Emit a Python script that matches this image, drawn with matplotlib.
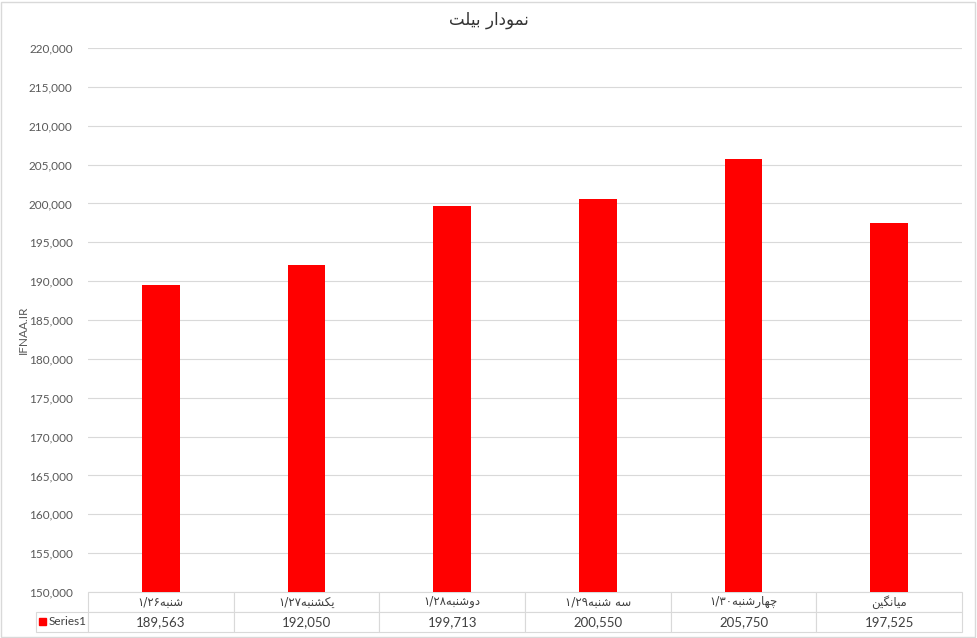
import matplotlib
matplotlib.use("Agg")
import matplotlib.pyplot as plt
from matplotlib.patches import Rectangle
from matplotlib.ticker import FuncFormatter, MultipleLocator

# ---------------- data ----------------
title = "نمودار بیلت"
ylabel = "IFNAA.IR"
series_name = "Series1"
categories = ["شنبه۱/۲۶", "یکشنبه۱/۲۷", "دوشنبه۱/۲۸", "سه شنبه۱/۲۹", "چهارشنبه۱/۳۰", "میانگین"]
values = [189563, 192050, 199713, 200550, 205750, 197525]
y_min, y_max, y_step = 150000, 220000, 5000

# ------------- minimal Persian shaping (matplotlib has no text shaping) -------------
FORMS = {
    "ا": ("\uFE8D", "\uFE8E"),
    "ب": ("\uFE8F", "\uFE90", "\uFE91", "\uFE92"),
    "ت": ("\uFE95", "\uFE96", "\uFE97", "\uFE98"),
    "د": ("\uFEA9", "\uFEAA"),
    "ر": ("\uFEAD", "\uFEAE"),
    "س": ("\uFEB1", "\uFEB2", "\uFEB3", "\uFEB4"),
    "ش": ("\uFEB5", "\uFEB6", "\uFEB7", "\uFEB8"),
    "ل": ("\uFEDD", "\uFEDE", "\uFEDF", "\uFEE0"),
    "م": ("\uFEE1", "\uFEE2", "\uFEE3", "\uFEE4"),
    "ن": ("\uFEE5", "\uFEE6", "\uFEE7", "\uFEE8"),
    "ه": ("\uFEE9", "\uFEEA", "\uFEEB", "\uFEEC"),
    "و": ("\uFEED", "\uFEEE"),
    "ی": ("\uFBFC", "\uFBFD", "\uFBFE", "\uFBFF"),
    "ک": ("\uFB8E", "\uFB8F", "\uFB90", "\uFB91"),
    "چ": ("\uFB7A", "\uFB7B", "\uFB7C", "\uFB7D"),
    "گ": ("\uFB92", "\uFB93", "\uFB94", "\uFB95"),
}
DIGITS = set("۰۱۲۳۴۵۶۷۸۹/0123456789")


def shape(run):
    out = []
    for i, ch in enumerate(run):
        f = FORMS.get(ch)
        if f is None:
            out.append(ch)
            continue
        prev = run[i - 1] if i > 0 else None
        nxt = run[i + 1] if i + 1 < len(run) else None
        jp = prev in FORMS and len(FORMS[prev]) == 4
        jn = len(f) == 4 and nxt in FORMS
        if jp and jn:
            out.append(f[3])
        elif jp:
            out.append(f[1])
        elif jn:
            out.append(f[2])
        else:
            out.append(f[0])
    return "".join(out)


def visual(s):
    runs, cur, cur_d = [], "", None
    for ch in s:
        d = ch in DIGITS
        if cur and d != cur_d:
            runs.append((cur, cur_d))
            cur = ""
        cur += ch
        cur_d = d
    if cur:
        runs.append((cur, cur_d))
    parts = []
    for text, is_d in reversed(runs):
        parts.append(text if is_d else shape(text)[::-1])
    return "".join(parts)


# ---------------- figure ----------------
W, H = 977, 638
fig = plt.figure(figsize=(W / 100, H / 100), dpi=100)
fig.patch.set_facecolor("white")

L, R, T, B = 88, 962, 48, 592
ax = fig.add_axes([L / W, 1 - B / H, (R - L) / W, (B - T) / H])

grid_c = "#d9d9d9"
text_c = "#595959"
num_font = ["Lato", "DejaVu Sans"]
fa_font = ["DejaVu Sans"]

x = list(range(len(categories)))
ax.bar(x, values, width=0.26, color="#ff0000", zorder=3)
ax.set_xlim(-0.5, len(categories) - 0.5)
ax.set_ylim(y_min, y_max)
ax.yaxis.set_major_locator(MultipleLocator(y_step))
ax.yaxis.set_major_formatter(FuncFormatter(lambda v, p: f"{int(v):,}"))
ax.grid(axis="y", color=grid_c, linewidth=0.8, zorder=0)
ax.set_axisbelow(True)
for s in ax.spines.values():
    s.set_visible(False)
ax.set_xticks([])
ax.tick_params(axis="y", length=0, pad=11, labelsize=8.5, labelcolor=text_c)
for lab in ax.get_yticklabels():
    lab.set_fontfamily(num_font)

# data table under the plot (first column = series label column)
row_h = 20 / (B - T)
rl_w = (L - 36) / (R - L)
n = len(categories)
tbl = ax.table(
    cellText=[[""] + [visual(c) for c in categories],
              [""] + [f"{v:,}" for v in values]],
    colWidths=[rl_w] + [1 / n] * n,
    cellLoc="center",
    bbox=[-rl_w, -2 * row_h, 1 + rl_w, 2 * row_h],
)
tbl.auto_set_font_size(False)
for (r, c), cell in tbl.get_celld().items():
    cell.set_edgecolor(grid_c)
    cell.set_linewidth(0.8)
    t = cell.get_text()
    t.set_color("#404040")
    if r == 0 and c == 0:
        cell.visible_edges = ""
    if r == 0:
        t.set_fontfamily(fa_font)
        t.set_fontsize(8.5)
    else:
        t.set_fontfamily(num_font)
        t.set_fontsize(9.5)

# legend key + series name in the label cell
ax.add_patch(Rectangle(((39 - L) / (R - L), -(625 - B) / (B - T)), 7 / (R - L), 7 / (B - T),
                       transform=ax.transAxes, color="#ff0000", clip_on=False, zorder=5))
ax.text((49 - L) / (R - L), -(621.5 - B) / (B - T), series_name, transform=ax.transAxes,
        ha="left", va="center", fontsize=8.5, color="#404040", fontfamily=num_font)

# titles
fig.text(489 / W, 1 - 20 / H, visual(title), ha="center", va="center",
         fontsize=12, color="#333333", fontfamily=fa_font)
fig.text(23 / W, 1 - 330 / H, ylabel, rotation=90, ha="center", va="center",
         fontsize=8.5, color=text_c, fontfamily=num_font)

# chart border
fig.patches.append(Rectangle((0.5 / W, 1.5 / H), (W - 3) / W, (H - 3) / H, transform=fig.transFigure,
                             fill=False, edgecolor=grid_c, linewidth=1))

fig.savefig("out.png", dpi=100)
